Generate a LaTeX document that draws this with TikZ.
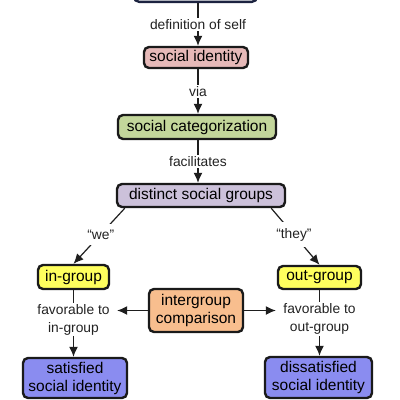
\documentclass[tikz,border=0pt]{standalone}
\usepackage{fontspec}
\setmainfont{Liberation Sans}
\usetikzlibrary{arrows.meta,calc}
\definecolor{boxline}{HTML}{1A1A1A}
\definecolor{navyline}{HTML}{1C2340}
\definecolor{pinkbox}{HTML}{E6B9B8}
\definecolor{greenbox}{HTML}{C3D69B}
\definecolor{lavbox}{HTML}{CCC1DA}
\definecolor{yellowbox}{HTML}{FFFF5E}
\definecolor{orangebox}{HTML}{F8BE8E}
\definecolor{bluebox}{HTML}{8A8CF0}
\definecolor{textgray}{HTML}{222222}
\definecolor{lineg}{HTML}{1E1E1E}
\begin{document}
\begin{tikzpicture}[x=1pt,y=-1pt,
  box/.style={draw=boxline, line width=2.4pt, rounded corners=5pt, inner sep=0pt,
    align=center, font=\fontsize{15.5}{18}\selectfont, text=black},
  lbl/.style={fill=white, inner xsep=7pt, inner ysep=1.5pt, align=center,
    font=\fontsize{13.8}{18}\selectfont, text=textgray},
  conn/.style={line width=1.2pt, draw=lineg},
  arr/.style={conn, -{Latex[length=10pt,width=9pt]}}]
\useasboundingbox (0,0) rectangle (400,400);
% boxes
\node[box, draw=navyline, fill=white, minimum width=123pt, minimum height=40pt, anchor=south] (self) at (195.5,3) {};
\node[box, fill=pinkbox, minimum width=104pt, minimum height=21pt] (si) at (196,57.5) {social identity};
\node[box, fill=greenbox, minimum width=158pt, minimum height=24pt] (sc) at (197,127) {social categorization};
\node[box, fill=lavbox, minimum width=168pt, minimum height=23pt] (dsg) at (201,195.5) {distinct social groups};
\node[box, fill=yellowbox, minimum width=71pt, minimum height=24pt] (ig) at (73.5,277) {in-group};
\node[box, fill=yellowbox, minimum width=83pt, minimum height=23pt] (og) at (319.5,277.5) {out-group};
\node[box, fill=orangebox, minimum width=94pt, minimum height=43pt] (ic) at (196,310.5) {intergroup\\comparison};
\node[box, fill=bluebox, minimum width=104pt, minimum height=40pt] (sat) at (75,378) {satisfied\\social identity};
\node[box, fill=bluebox, minimum width=107pt, minimum height=41pt] (dis) at (318.5,377.5) {dissatisfied\\social identity};
% spine
\coordinate (spine) at (198,0);
\draw[arr] (self.south -| spine) -- node[lbl] {definition of self} (si.north -| spine);
\draw[arr] (si.south -| spine) -- node[lbl] {via} (sc.north -| spine);
\draw[arr] (sc.south -| spine) -- node[lbl] {facilitates} (dsg.north -| spine);
% we / they
\coordinate (wes) at ($(dsg.south west)+(9,0)$);
\coordinate (theys) at ($(dsg.south east)+(-15,0)$);
\draw[arr] (wes) -- node[lbl, inner ysep=6pt, pos=0.47] {“we”} (ig.north);
\draw[arr] (theys) -- node[lbl, inner ysep=6pt, pos=0.47] {“they”} (og.north);
% favorable
\draw[arr] (ig.south) -- node[lbl, pos=0.44] (fav1) {favorable to\\in-group} (sat.north -| ig.south);
\draw[arr] (og.south) -- node[lbl, pos=0.44] (fav2) {favorable to\\out-group} (dis.north -| og.south);
\draw[arr] (ic.west) -- (ic.west -| fav1.east);
\draw[arr] (ic.east) -- (ic.east -| fav2.west);
\end{tikzpicture}
\end{document}
